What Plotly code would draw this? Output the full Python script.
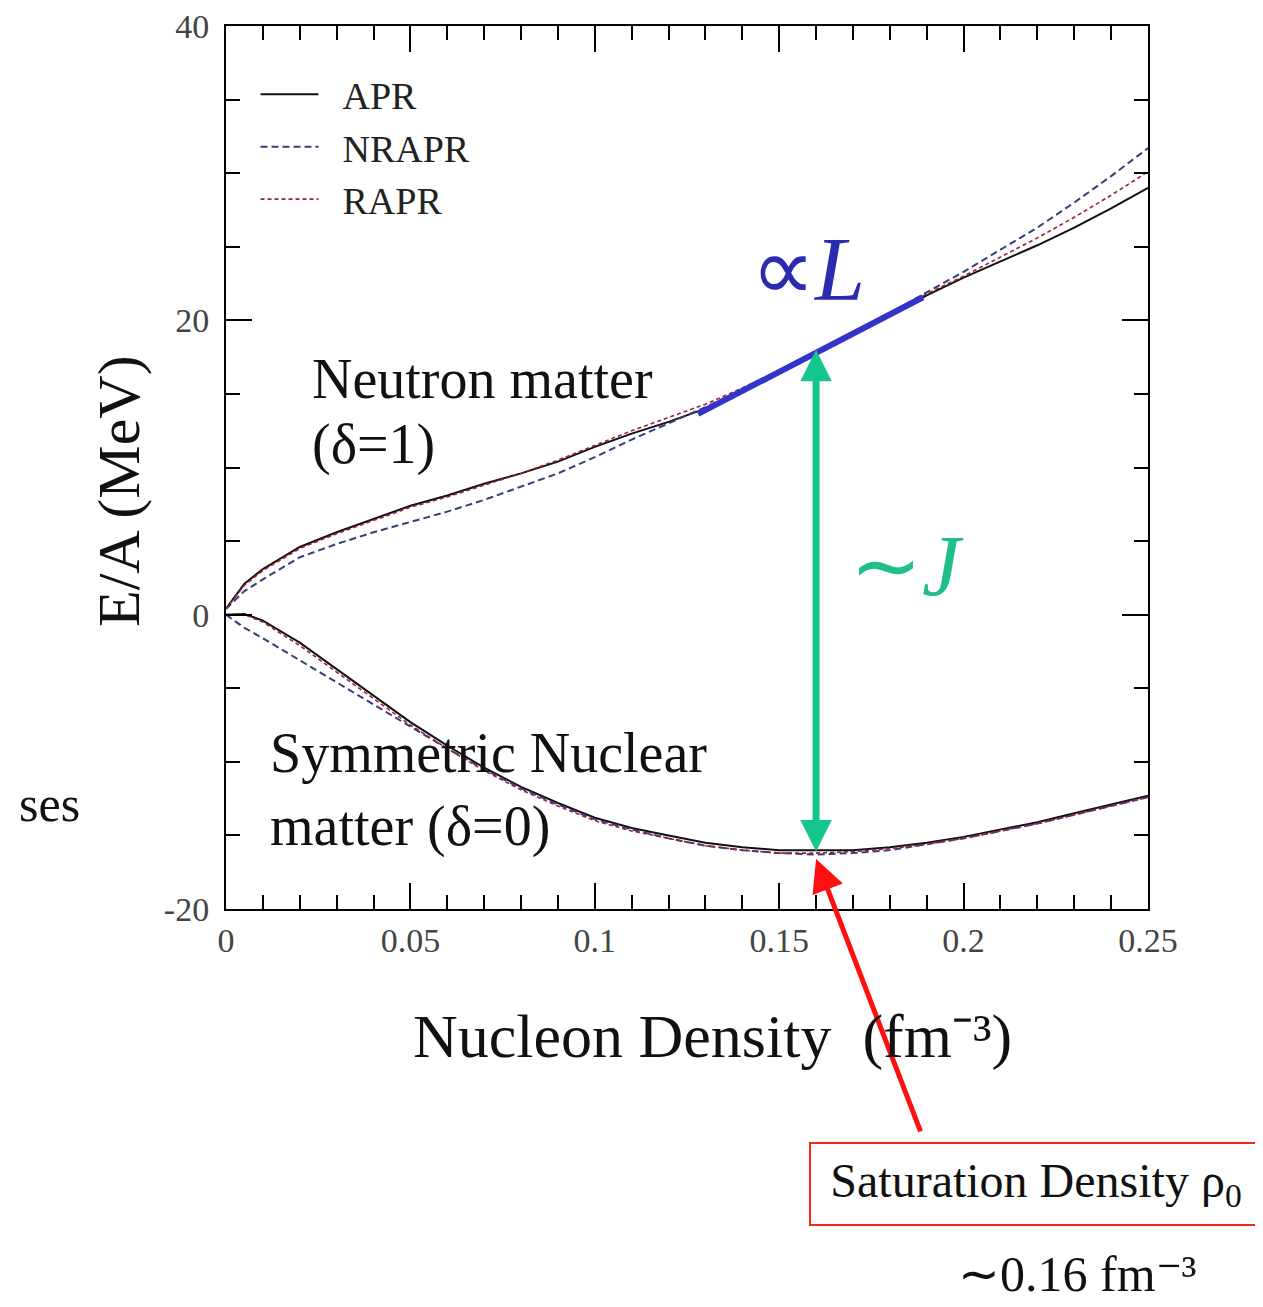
import plotly.graph_objects as go

# ---------------- data ----------------
density = [0.0, 0.005, 0.01, 0.02, 0.03, 0.04, 0.05, 0.06, 0.07, 0.08, 0.09,
           0.10, 0.11, 0.12, 0.13, 0.14, 0.15, 0.16, 0.17, 0.18, 0.19, 0.20,
           0.21, 0.22, 0.23, 0.24, 0.25]

# Neutron matter (delta = 1)
pnm_apr = [0.4, 2.1, 3.1, 4.6, 5.6, 6.5, 7.4, 8.1, 8.9, 9.6, 10.4,
           11.4, 12.3, 13.1, 14.0, 15.2, 16.5, 17.8, 19.1, 20.4, 21.7, 22.9,
           24.0, 25.1, 26.3, 27.6, 29.0]
pnm_nrapr = [0.4, 1.6, 2.4, 3.9, 4.8, 5.6, 6.3, 7.0, 7.8, 8.7, 9.6,
             10.7, 11.9, 13.0, 14.1, 15.3, 16.5, 17.8, 19.1, 20.5, 21.9, 23.3,
             24.8, 26.3, 28.0, 29.8, 31.7]
pnm_rapr = [0.4, 2.0, 3.0, 4.5, 5.5, 6.4, 7.3, 8.0, 8.8, 9.6, 10.5,
            11.5, 12.5, 13.4, 14.3, 15.4, 16.6, 17.9, 19.2, 20.5, 21.8, 23.0,
            24.3, 25.6, 27.0, 28.5, 30.1]

# Symmetric nuclear matter (delta = 0)
snm_apr = [0.0, 0.05, -0.4, -1.9, -3.7, -5.5, -7.3, -8.9, -10.4, -11.7, -12.8,
           -13.8, -14.5, -15.0, -15.5, -15.8, -16.0, -16.0, -16.0, -15.8, -15.5, -15.1,
           -14.6, -14.1, -13.5, -12.9, -12.3]
snm_nrapr = [0.0, -0.9, -1.6, -3.1, -4.6, -6.1, -7.6, -9.1, -10.5, -11.8, -12.9,
             -13.9, -14.6, -15.2, -15.7, -16.0, -16.2, -16.3, -16.2, -16.0, -15.6, -15.2,
             -14.7, -14.2, -13.6, -13.0, -12.4]
snm_rapr = [0.0, 0.0, -0.5, -2.1, -3.9, -5.7, -7.5, -9.1, -10.6, -11.9, -13.0,
            -14.0, -14.7, -15.2, -15.7, -16.0, -16.2, -16.2, -16.1, -15.9, -15.6, -15.2,
            -14.7, -14.2, -13.6, -13.0, -12.4]

rho0 = 0.16
x_ticks = [0, 0.05, 0.1, 0.15, 0.2, 0.25]
y_ticks = [-20, 0, 20, 40]

SERIF = "Liberation Serif, Times New Roman, serif"

# plot area in screen pixels (reference)
PX0, PX1, PY0, PY1 = 225, 1147, 25, 908

fig = go.Figure()

styles = {
    "APR": dict(color="#111111", width=2, dash="solid"),
    "NRAPR": dict(color="#3c3c7a", width=2, dash="7px,4px"),
    "RAPR": dict(color="#9a2040", width=1.6, dash="4px,3px"),
}

for name, pnm, snm in [("APR", pnm_apr, snm_apr),
                       ("NRAPR", pnm_nrapr, snm_nrapr),
                       ("RAPR", pnm_rapr, snm_rapr)]:
    fig.add_trace(go.Scatter(x=density, y=pnm, mode="lines", name="\u2002" + name,
                             line=styles[name], legendgroup=name, showlegend=True))
    fig.add_trace(go.Scatter(x=density, y=snm, mode="lines", name=name,
                             line=styles[name], legendgroup=name, showlegend=False))

# tangent line (slope L) at saturation density on neutron matter curve
i0 = density.index(rho0)
slope = (pnm_apr[i0 + 1] - pnm_apr[i0 - 1]) / (density[i0 + 1] - density[i0 - 1])
tx = [0.128, 0.189]
ty = [pnm_apr[i0] + slope * (t - rho0) for t in tx]
fig.add_trace(go.Scatter(x=tx, y=ty, mode="lines", showlegend=False,
                         line=dict(color="#3434c8", width=6)))

annotations = []
# green double arrow (symmetry energy J)
annotations.append(dict(x=rho0, y=min(snm_apr) - 0.1, ax=rho0, ay=pnm_apr[i0] + 0.3,
                        xref="x", yref="y", axref="x", ayref="y", text="",
                        showarrow=True, arrowhead=2, startarrowhead=2,
                        arrowside="end+start", arrowwidth=7, arrowsize=0.9,
                        startarrowsize=0.9, arrowcolor="#14c68e"))
# red arrow to saturation point
annotations.append(dict(x=rho0, y=-16.6, ax=105, ay=274, xref="x", yref="y",
                        axref="pixel", ayref="pixel", text="", showarrow=True,
                        arrowhead=2, arrowwidth=5, arrowsize=1.3, arrowcolor="#ff1010"))

def px2paper(px, py):
    return (px - PX0) / (PX1 - PX0), (PY1 - py) / (PY1 - PY0)

def txt(text, px, py, size, color="#111111", anchor="left", angle=0):
    x, y = px2paper(px, py)
    annotations.append(dict(text=text, xref="paper", yref="paper", x=x, y=y,
                            xanchor=anchor, yanchor="middle", showarrow=False,
                            textangle=angle,
                            font=dict(family=SERIF, size=size, color=color)))

txt("Neutron matter", 309, 378, 56)
txt("(δ=1)", 309, 443, 56)
txt("Symmetric Nuclear", 267, 752, 56)
txt("matter (δ=0)", 267, 825, 56)
txt("∝<i>L</i>", 748, 268, 90, color="#2b2bb0")
txt("∼<i>J</i>", 847, 565, 86, color="#1fbf8c")
txt("ses", 48, 803, 50, anchor="center")
txt("∼0.16 fm⁻³", 1076, 1273, 50, anchor="center")
# axis titles
txt("Nucleon Density \u00a0(fm⁻³)", 711, 1035, 62, anchor="center")
txt("E/A (MeV)", 118, 490, 60, anchor="center", angle=-90)

bx, by = px2paper(1035, 1183)
annotations.append(dict(text="Saturation Density ρ<sub>0</sub>", xref="paper", yref="paper",
                        x=bx, y=by, xanchor="center", yanchor="middle", showarrow=False,
                        width=448, height=78, bordercolor="#ee2a1a", borderwidth=2,
                        borderpad=1, bgcolor="white",
                        font=dict(family=SERIF, size=48, color="#111111")))

axis_common = dict(showline=True, linewidth=2, linecolor="black", mirror="ticks",
                   ticks="inside", ticklen=26, tickwidth=2, tickcolor="black",
                   showgrid=False, zeroline=False, automargin=False,
                   ticklabeloverflow="allow",
                   tickfont=dict(family=SERIF, size=34, color="#444444"))

# the page adds a small offset (body margin) -> compensate
OX, OY = 7, 7
W, H = 1263, 1307
fig.update_layout(
    width=W, height=H,
    margin=dict(l=PX0 - OX, r=W - (PX1 - OX), t=PY0 - OY, b=H - (PY1 - OY)),
    paper_bgcolor="white", plot_bgcolor="white",
    showlegend=True,
    legend=dict(x=0.032, y=0.958, xanchor="left", yanchor="top",
                font=dict(family=SERIF, size=38, color="#222222"),
                itemwidth=58, bgcolor="rgba(0,0,0,0)", tracegroupgap=0),
    xaxis=dict(range=[0, 0.25], tickvals=x_ticks,
               ticktext=[("%g" % v) for v in x_ticks],
               minor=dict(dtick=0.01, ticks="inside", ticklen=14, tickwidth=1.5,
                          tickcolor="black"),
               ticklabelstandoff=0,
               **axis_common),
    yaxis=dict(range=[-20, 40], tickvals=y_ticks,
               ticktext=[str(v) for v in y_ticks],
               minor=dict(dtick=5, ticks="inside", ticklen=14, tickwidth=1.5,
                          tickcolor="black"),
               ticklabelstandoff=8,
               **axis_common),
    annotations=annotations,
)

fig.write_html("out.html")
